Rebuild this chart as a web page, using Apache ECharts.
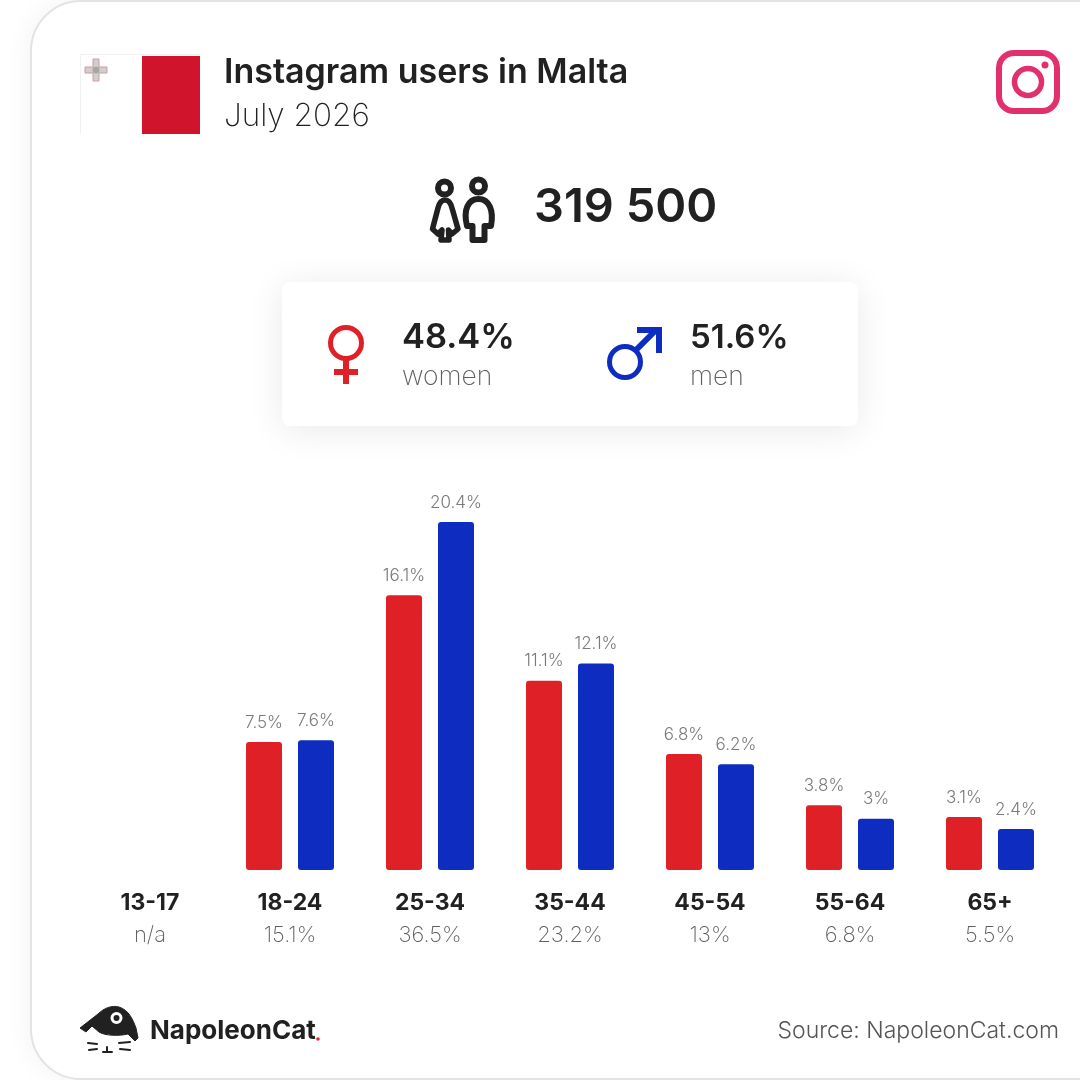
<!DOCTYPE html>
<html><head><meta charset="utf-8">
<style>html,body{margin:0;padding:0;background:#fff}#c{width:1080px;height:1080px}</style>
<script src="https://cdn.jsdelivr.net/npm/echarts@6/dist/echarts.min.js"></script>
</head><body><div id="c"></div>
<script>
const categories = ['13-17','18-24','25-34','35-44','45-54','55-64','65+'];
const totals = ['n/a','15.1%','36.5%','23.2%','13%','6.8%','5.5%'];
const women = [null,7.5,16.1,11.1,6.8,3.8,3.1];
const men = [null,7.6,20.4,12.1,6.2,3,2.4];
const titleText = 'Instagram users in Malta';
const dateText = 'July 2026';
const totalText = '319 500';
const womenShare = '48.4%';
const menShare = '51.6%';
const sourceText = 'Source: NapoleonCat.com';
const F = 'Inter, "Open Sans", sans-serif';
const dark = '#212121';
const grayT = '#6f6f6f';
const red = '#df2027';
const blue = '#0f2cc0';

function txt(x,y,text,size,weight,color,align){
  return {type:'text',x:x,y:y,style:{text:text,font:weight+' '+size+'px '+F,fill:color,textAlign:align||'left',textVerticalAlign:'middle'}};
}
let pathCount = 0;
function pathEl(d,style){
  const name = 'iconPath'+(pathCount++);
  echarts.graphic.registerShape(name, echarts.graphic.extendPath(d));
  return {type:name,style:style};
}
function line(d,color,w,fill){
  return pathEl(d,{stroke:color,lineWidth:w,fill:fill||'none',lineJoin:'round',lineCap:'round'});
}
const label = {show:true,position:'top',distance:11,color:'#7a7a7a',fontFamily:F,fontWeight:300,fontSize:17,formatter:p=>p.value+'%'};
const chart = echarts.init(document.getElementById('c'),null,{renderer:'canvas'});
chart.setOption({
  animation:false,
  backgroundColor:'#ffffff',
  grid:{left:80,right:20,top:460.6,bottom:210},
  xAxis:{type:'category',data:categories,axisLine:{show:false},axisTick:{show:false},
    axisLabel:{margin:17,interval:0,
      formatter:(v,i)=>'{a|'+v+'}\n{b|'+totals[i]+'}',
      rich:{a:{fontFamily:F,fontWeight:700,fontSize:23,color:dark,height:32,lineHeight:32},
            b:{fontFamily:F,fontWeight:200,fontSize:22,color:'#5f5f5f',height:32,lineHeight:32}}}},
  yAxis:{type:'value',min:0,max:24,show:false,splitLine:{show:false}},
  series:[
    {name:'women',type:'bar',data:women,barWidth:36,barGap:'44.4%',itemStyle:{color:red,borderRadius:3},label:label},
    {name:'men',type:'bar',data:men,barWidth:36,itemStyle:{color:blue,borderRadius:3},label:label}
  ],
  graphic:[
    {type:'rect',shape:{x:31,y:1,width:1300,height:1078,r:50},style:{fill:'#fff',stroke:'#e3e3e3',lineWidth:2,shadowBlur:30,shadowColor:'rgba(0,0,0,0.06)'}},
    {type:'rect',shape:{x:80,y:54,width:62,height:80},style:{fill:'#fff'}},
    line('M80.5 134V54.5H200','#f1f1f1',1),
    {type:'rect',shape:{x:142,y:56,width:58,height:78},style:{fill:'#cf142b'}},
    pathEl('M93 59h6v8h8v6h-8v8h-6v-8h-8v-6h8z',{fill:'#cfcfcf',stroke:'#cf9aa0',lineWidth:1}),
    {type:'circle',shape:{cx:96,cy:70,r:3.5},style:{fill:'#a8a8a0'}},
    txt(224,73,titleText,34,600,dark),
    txt(224,117,dateText,31.5,200,dark),
    {type:'rect',shape:{x:999,y:53,width:58,height:58,r:15},style:{fill:'none',stroke:'#e2306f',lineWidth:6}},
    {type:'circle',shape:{cx:1028,cy:82,r:13.5},style:{fill:'none',stroke:'#e2306f',lineWidth:5.5}},
    {type:'circle',shape:{cx:1045,cy:65,r:3.5},style:{fill:'#e2306f'}},
    {type:'circle',shape:{cx:444.5,cy:188,r:6.5},style:{fill:'none',stroke:dark,lineWidth:6}},
    {type:'circle',shape:{cx:478.5,cy:186,r:6.5},style:{fill:'none',stroke:dark,lineWidth:6}},
    line('M445 200C441 200 439 204 438 208L432.5 229L438 234L442 230L441 240H449L448.5 230L452 234L458 229L452 208C451 204 449 200 445 200Z',dark,5.5),
    line('M467 226C463 210 468 199 478.5 199C489 199 494 210 491 226H484.5V240H472.5V226Z',dark,6),
    txt(534,208,totalText,47,600,dark),
    {type:'rect',shape:{x:282,y:282,width:576,height:144,r:8},style:{fill:'#fff',shadowBlur:36,shadowColor:'rgba(0,0,0,0.09)',shadowOffsetY:4}},
    {type:'circle',shape:{cx:346,cy:343,r:15.5},style:{fill:'none',stroke:red,lineWidth:5}},
    {type:'rect',shape:{x:343,y:360,width:6,height:24},style:{fill:red}},
    {type:'rect',shape:{x:334,y:369,width:24,height:6},style:{fill:red}},
    {type:'circle',shape:{cx:625,cy:362,r:15.5},style:{fill:'none',stroke:blue,lineWidth:5}},
    pathEl('M636 350L656 330',{stroke:blue,lineWidth:6,fill:'none'}),
    pathEl('M637 327H662V353H656V333H637Z',{fill:blue}),
    txt(402,338,womenShare,34.5,600,dark),
    txt(402,377,'women',26.5,200,'#5f5f5f'),
    txt(690,338,menShare,33,600,dark),
    txt(690,377,'men',26.5,200,'#5f5f5f'),
    pathEl('M80 1028L98 1014C104 1008 112 1005 119 1007C129 1010 133 1020 136 1028L138 1038L135 1041L128 1034C120 1036 105 1036 99 1032L92 1026L86 1032Z',{fill:dark,stroke:dark,lineWidth:1,lineJoin:'round'}),
    {type:'circle',shape:{cx:116.5,cy:1018,r:4.5},style:{fill:dark,stroke:'#fff',lineWidth:3}},
    line('M88 1043L97 1044M89 1050L97 1049M130 1042L119 1043M130 1050L120 1049M107 1047V1052M103 1052H112',dark,2),
    txt(150,1031,'NapoleonCat',26,700,dark),
    {type:'circle',shape:{cx:318,cy:1039,r:1.8},style:{fill:'#e6253a'}},
    txt(1059,1031,sourceText,23,300,'#555','right')
  ]
});
</script></body></html>
